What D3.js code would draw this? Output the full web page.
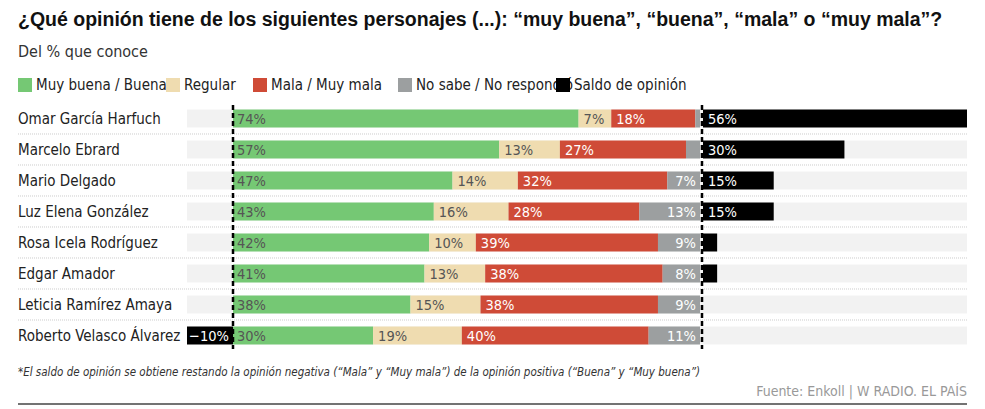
<!doctype html>
<meta charset="utf-8">
<script src="https://cdn.jsdelivr.net/npm/d3@7"></script>
<style>
body{margin:0;background:#fff;font-family:"Liberation Sans Narrow","DejaVu Sans Condensed",sans-serif;}
</style>
<body>
<script>
var width = 985, height = 409;

var names = ["Omar García Harfuch","Marcelo Ebrard","Mario Delgado","Luz Elena González","Rosa Icela Rodríguez","Edgar Amador","Leticia Ramírez Amaya","Roberto Velasco Álvarez"];
var buena   = [74,57,47,43,42,41,38,30];
var regular = [7,13,14,16,10,13,15,19];
var mala    = [18,27,32,28,39,38,38,40];
var nosabe  = [1,3,7,13,9,8,9,11];
var saldo   = [56,30,15,15,3,3,0,-10];
var seriesNames = ["Muy buena / Buena","Regular","Mala / Muy mala","No sabe / No respondió","Saldo de opinión"];
var colors = ["#75c874","#efdcb0","#cf4b37","#9c9fa0","#000000"];

var svg = d3.select("body").append("svg").attr("width", width).attr("height", height);

svg.append("text").attr("x",18).attr("y",26).attr("font-family","Liberation Sans, Arial, sans-serif")
  .attr("font-weight","bold").attr("font-size",19.5).attr("fill","#111")
  .text("¿Qué opinión tiene de los siguientes personajes (...): “muy buena”, “buena”, “mala” o “muy mala”?");
svg.append("text").attr("x",18).attr("y",57).attr("font-size",16).attr("fill","#333").text("Del % que conoce");

// legend
var lx = [18,166,253,398,556];
seriesNames.forEach(function(n,i){
  svg.append("rect").attr("x",lx[i]).attr("y",78).attr("width",14).attr("height",14).attr("fill",colors[i]);
  svg.append("text").attr("x",lx[i]+18).attr("y",90).attr("font-size",15).attr("fill","#222").text(n);
});

var x = d3.scaleLinear().domain([0,100]).range([233,700]);
var xs = d3.scaleLinear().domain([0,56]).range([703,967]);
var xn = d3.scaleLinear().domain([-10,0]).range([187,233]);
var y = d3.scaleBand().domain(names).range([103,351]).paddingInner(0.42).paddingOuter(0.21);
var bh = y.bandwidth();

names.forEach(function(n,i){
  var yy = y(n);
  svg.append("rect").attr("x",187).attr("y",yy).attr("width",967-187).attr("height",bh).attr("fill","#f2f2f2");
  svg.append("text").attr("x",18).attr("y",yy+bh/2+5).attr("font-size",15).attr("fill","#222").text(n);
  if(i<names.length-1)
    svg.append("line").attr("x1",18).attr("x2",967).attr("y1",yy+bh+6.5).attr("y2",yy+bh+6.5)
      .attr("stroke","#ccc").attr("stroke-dasharray","1,1");
  var vals=[buena[i],regular[i],mala[i],nosabe[i]], c=0;
  vals.forEach(function(v,k){
    svg.append("rect").attr("x",x(c)).attr("y",yy).attr("width",x(c+v)-x(c)).attr("height",bh).attr("fill",colors[k]);
    if(v>=5){
      var t=svg.append("text").attr("y",yy+bh/2+5).attr("font-size",14.5).text(v+"%");
      if(k==3) t.attr("x",x(c+v)-4).attr("text-anchor","end").attr("fill","#fff");
      else t.attr("x",x(c)+(k==0?4:5)).attr("fill",k==2?"#fff":"#555");
    }
    c+=v;
  });
  var s=saldo[i];
  if(s>0){
    svg.append("rect").attr("x",xs(0)).attr("y",yy).attr("width",xs(s)-xs(0)).attr("height",bh).attr("fill","#000");
    if(s>=10) svg.append("text").attr("x",xs(0)+5).attr("y",yy+bh/2+5).attr("font-size",14.5).attr("fill","#fff").text(s+"%");
  } else if(s<0){
    svg.append("rect").attr("x",xn(s)).attr("y",yy).attr("width",xn(0)-xn(s)).attr("height",bh).attr("fill","#000");
    svg.append("text").attr("x",xn(0)-4).attr("y",yy+bh/2+5).attr("text-anchor","end").attr("font-size",14.5).attr("fill","#fff").text("−"+(-s)+"%");
  }
});

[233,702].forEach(function(xv){
  svg.append("line").attr("x1",xv).attr("x2",xv).attr("y1",105).attr("y2",349)
    .attr("stroke","#000").attr("stroke-width",2.5).attr("stroke-dasharray","5,3");
});

svg.append("text").attr("x",18).attr("y",376).attr("font-size",11.5).attr("font-style","italic").attr("fill","#333")
  .text("*El saldo de opinión se obtiene restando la opinión negativa (“Mala” y “Muy mala”) de la opinión positiva (“Buena” y “Muy buena”)");
svg.append("text").attr("x",967).attr("y",396).attr("text-anchor","end").attr("font-size",14).attr("fill","#999")
  .text("Fuente: Enkoll | W RADIO. EL PAÍS");
svg.append("line").attr("x1",18).attr("x2",967).attr("y1",404).attr("y2",404).attr("stroke","#444").attr("stroke-width",1.5);
</script>
</body>
